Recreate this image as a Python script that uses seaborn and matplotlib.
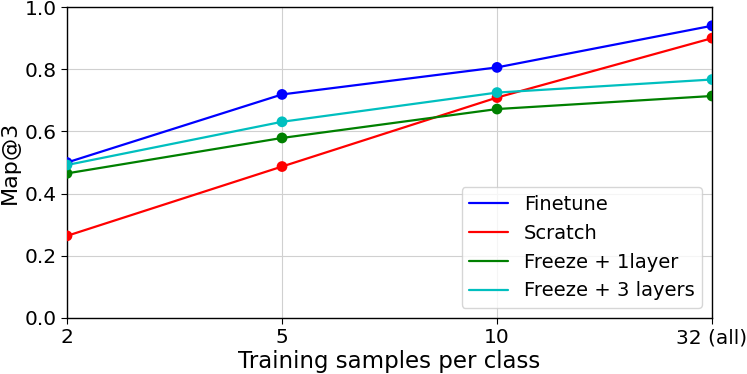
import pandas as pd
import matplotlib
matplotlib.use("Agg")
import matplotlib.pyplot as plt
import seaborn as sns

# data
samples = ["2", "5", "10", "32 (all)"]
finetune = [0.500, 0.719, 0.806, 0.940]
scratch = [0.264, 0.487, 0.709, 0.900]
freeze_1 = [0.465, 0.579, 0.672, 0.714]
freeze_3 = [0.492, 0.631, 0.725, 0.767]

series = {
    "Finetune": finetune,
    "Scratch": scratch,
    "Freeze + 1layer": freeze_1,
    "Freeze + 3 layers": freeze_3,
}
colors = {"Finetune": "b", "Scratch": "r", "Freeze + 1layer": "g", "Freeze + 3 layers": "c"}

rows = []
for name, vals in series.items():
    for i, v in enumerate(vals):
        rows.append({"pos": i, "method": name, "map3": v})
df = pd.DataFrame(rows)

sns.set_style("ticks")
plt.rcParams["font.family"] = ["DejaVu Sans"]
plt.rcParams["text.color"] = "black"
plt.rcParams["axes.labelcolor"] = "black"
plt.rcParams["xtick.color"] = "black"
plt.rcParams["ytick.color"] = "black"

fig = plt.figure(figsize=(7.47, 3.74), dpi=100)
ax = fig.add_axes([0.0897, 0.150, 0.8635, 0.831])

sns.lineplot(data=df, x="pos", y="map3", hue="method", palette=colors,
             linewidth=1.6, ax=ax)
sns.scatterplot(data=df, x="pos", y="map3", hue="method", palette=colors,
                s=60, edgecolor="none", legend=False, ax=ax, zorder=3)

ax.set_xlim(0, 3)
ax.set_ylim(0, 1.0)
ax.set_xticks(range(len(samples)))
ax.set_xticklabels(samples)
ax.set_yticks([0, 0.2, 0.4, 0.6, 0.8, 1.0])
ax.tick_params(labelsize=14.5, direction="out", length=4)
ax.grid(True, color="#d0d0d0", linewidth=0.8)
for sp in ax.spines.values():
    sp.set_color("black")
    sp.set_linewidth(1.0)
ax.set_xlabel("Training samples per class", fontsize=16.5, labelpad=2)
ax.set_ylabel("Map@3", fontsize=16, labelpad=3)

leg = ax.legend(loc="lower right", fontsize=14, frameon=True, fancybox=True,
                framealpha=0.8, edgecolor="#cccccc")

fig.savefig("out.png", dpi=100)
